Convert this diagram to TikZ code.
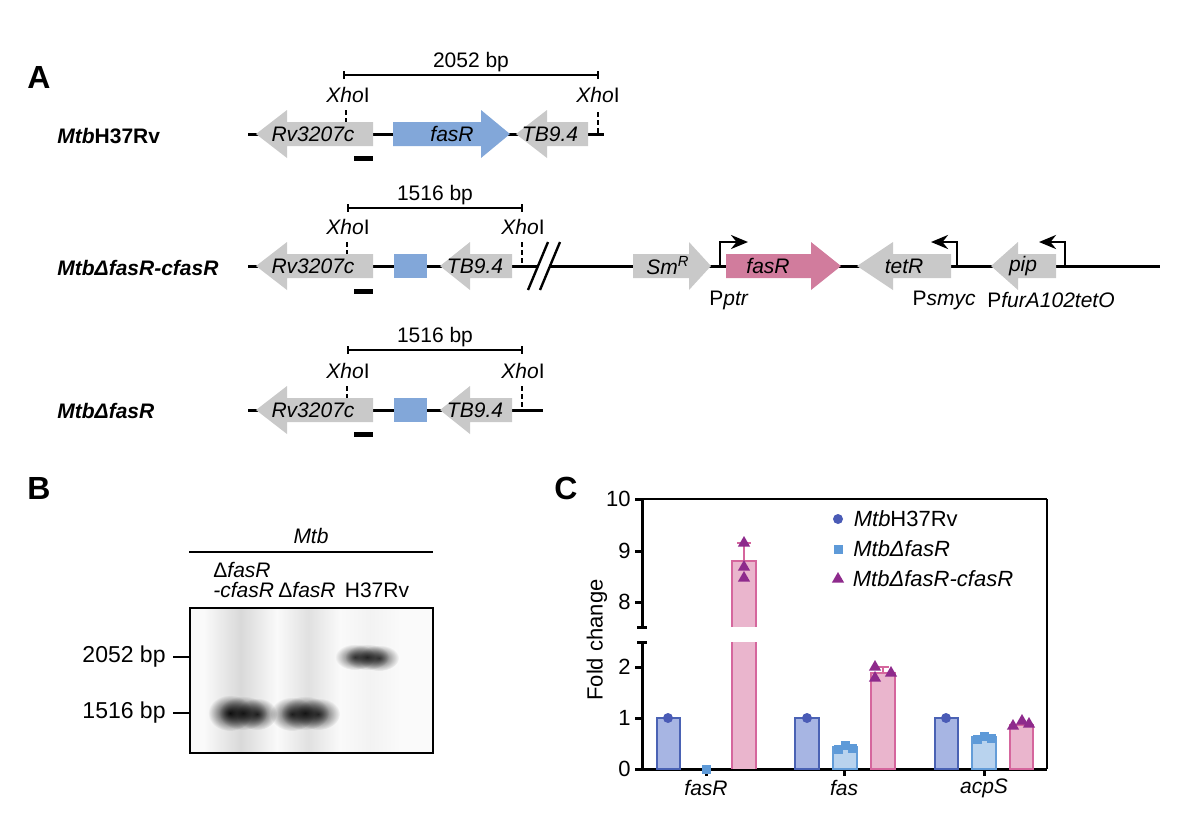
\documentclass[tikz,border=0pt]{standalone}
\usepackage{fontspec}
\setmainfont{Liberation Sans}
\usetikzlibrary{arrows.meta}
\usetikzlibrary{positioning}
\usetikzlibrary{shapes.geometric}
\usetikzlibrary{fadings}

\definecolor{genegrey}{HTML}{C9C9C9}
\definecolor{fasblue}{HTML}{82A7D9}
\definecolor{faspink}{HTML}{D17C9D}
\definecolor{wtfill}{HTML}{A7B5E3}
\definecolor{wtline}{HTML}{4A62B4}
\definecolor{wtmark}{HTML}{4A5BB6}
\definecolor{kofill}{HTML}{B9D3EE}
\definecolor{koline}{HTML}{649DD8}
\definecolor{komark}{HTML}{5E9AD8}
\definecolor{cpfill}{HTML}{EAB5CD}
\definecolor{cpline}{HTML}{D5669D}
\definecolor{cpmark}{HTML}{8E2A8C}

\tikzfading[name=fuzzy, inner color=transparent!0, outer color=transparent!100]

\begin{document}
\begin{tikzpicture}[x=0.5pt,y=-0.5pt]
\tikzstyle{every node}=[font=\fontsize{10.5}{12}\selectfont,inner sep=1pt]
\tikzstyle{panel}=[font=\fontsize{16}{18}\selectfont\bfseries]
\tikzstyle{strain}=[anchor=west,font=\fontsize{10.5}{12}\selectfont\bfseries]
\tikzstyle{genetext}=[font=\fontsize{10.5}{12}\selectfont\itshape]
\tikzstyle{dna}=[line width=1.5pt]
\tikzstyle{gene}=[fill=genegrey]
\tikzstyle{xho}=[line width=1.3pt,dash pattern=on 2.5pt off 1.5pt]
\tikzstyle{scalebar}=[line width=0.9pt]
\tikzstyle{probe}=[fill=black]
\tikzstyle{prom}=[line width=1.3pt,-{Stealth[length=8.5pt,width=7pt]}]
\tikzstyle{band}=[fill=black,path fading=fuzzy]
\tikzstyle{axis}=[line width=1.5pt]
\tikzstyle{wtbar}=[fill=wtfill,draw=wtline,line width=1.2pt]
\tikzstyle{kobar}=[fill=kofill,draw=koline,line width=1.2pt]
\tikzstyle{cpbar}=[fill=cpfill,draw=cpline,line width=1.2pt]
\tikzstyle{wtdot}=[circle,fill=wtmark,inner sep=0pt,minimum size=5pt]
\tikzstyle{kodot}=[rectangle,fill=komark,inner sep=0pt,minimum size=4.5pt]
\tikzstyle{cpdot}=[regular polygon,regular polygon sides=3,fill=cpmark,inner sep=0pt,minimum size=7pt]
\useasboundingbox (0,0) rectangle (1183,821);
%panel letters
\node[panel] (la) at (39,77) {A};
\node[panel] (lb) at (39,488) {B};
\node[panel] (lc) at (566,488) {C};
%row 1 : H37Rv
\node[strain] (wt) at (55,136) {\textit{Mtb}H37Rv};
\draw[dna] (248,134) -- (604,134);
\fill[gene] (373,122) -- (287,122) -- (287,110) -- (256,134) -- (287,158) -- (287,146) -- (373,146) -- cycle;
\fill[fasblue] (393,122) -- (481,122) -- (481,110) -- (510,134) -- (481,158) -- (481,146) -- (393,146) -- cycle;
\fill[gene] (588,122) -- (547,122) -- (547,110) -- (516,134) -- (547,158) -- (547,146) -- (588,146) -- cycle;
\node[genetext] (rv1) at (313,134) {Rv3207c};
\node[genetext] (fas1) at (452,134) {fasR};
\node[genetext] (tb1) at (550,134) {TB9.4};
\draw[xho] (346,110) -- (346,122);
\draw[xho] (598,112) -- (598,134);
\node (xa1) at (348,95) {\textit{Xho}I};
\node (xb1) at (598,95) {\textit{Xho}I};
\draw[scalebar] (344,71) -- (344,79) (344,75) -- (598,75) (598,71) -- (598,79);
\node (bp1) at (471,62) {2052 bp};
\fill[probe] (354,156) rectangle (373,161);
%row 2 : complemented
\node[strain] (comp) at (55,268) {\itshape MtbΔfasR-cfasR};
\draw[dna] (248,266) -- (1160,266);
\fill[white] (528,292) -- (549,240) -- (561,240) -- (540,292) -- cycle;
\draw[line width=1.2pt] (528,290) -- (548,242) (540,290) -- (560,242);
\fill[gene] (373,254) -- (287,254) -- (287,242) -- (256,266) -- (287,290) -- (287,278) -- (373,278) -- cycle;
\fill[fasblue] (394,254) rectangle (427,278);
\fill[gene] (512,254) -- (470,254) -- (470,242) -- (440,266) -- (470,290) -- (470,278) -- (512,278) -- cycle;
\node[genetext] (rv2) at (313,266) {Rv3207c};
\node[genetext] (tb2) at (475,266) {TB9.4};
\draw[xho] (347,242) -- (347,254);
\draw[xho] (522,242) -- (522,266);
\node (xa2) at (348,227) {\textit{Xho}I};
\node (xb2) at (523,227) {\textit{Xho}I};
\draw[scalebar] (348,204) -- (348,212) (348,208) -- (522,208) (522,204) -- (522,212);
\node (bp2) at (435,195) {1516 bp};
\fill[probe] (354,289) rectangle (373,294);
%plasmid insert
\fill[gene] (633,254) -- (689,254) -- (689,242) -- (711,266) -- (689,290) -- (689,278) -- (633,278) -- cycle;
\fill[faspink] (726,254) -- (811,254) -- (811,242) -- (841,266) -- (811,290) -- (811,278) -- (726,278) -- cycle;
\fill[gene] (951,254) -- (893,254) -- (893,242) -- (857,266) -- (893,290) -- (893,278) -- (951,278) -- cycle;
\fill[gene] (1056,254) -- (1018,254) -- (1018,242) -- (991,266) -- (1018,290) -- (1018,278) -- (1056,278) -- cycle;
\node[genetext] (sm) at (668,266) {Sm\textsuperscript{R}};
\node[genetext] (fas2) at (768,266) {fasR};
\node[genetext] (tet) at (904,266) {tetR};
\node[genetext] (pip) at (1023,266) {pip};
\draw[prom] (720,266) -- (720,242) -- (748,242);
\draw[prom] (957,266) -- (957,242) -- (931,242);
\draw[prom] (1065,266) -- (1065,242) -- (1039,242);
\node (pptr) at (729,300) {P\textit{ptr}};
\node (psmyc) at (944,300) {P\textit{smyc}};
\node (pfur) at (1051,300) {P\textit{furA102tetO}};
%row 3 : deletion
\node[strain] (ko) at (55,411) {\itshape MtbΔfasR};
\draw[dna] (248,410) -- (543,410);
\fill[gene] (373,398) -- (287,398) -- (287,386) -- (256,410) -- (287,434) -- (287,422) -- (373,422) -- cycle;
\fill[fasblue] (394,398) rectangle (427,422);
\fill[gene] (512,398) -- (470,398) -- (470,386) -- (440,410) -- (470,434) -- (470,422) -- (512,422) -- cycle;
\node[genetext] (rv3) at (313,410) {Rv3207c};
\node[genetext] (tb3) at (475,410) {TB9.4};
\draw[xho] (347,386) -- (347,398);
\draw[xho] (522,386) -- (522,410);
\node (xa3) at (348,371) {\textit{Xho}I};
\node (xb3) at (523,371) {\textit{Xho}I};
\draw[scalebar] (348,346) -- (348,354) (348,350) -- (522,350) (522,346) -- (522,354);
\node (bp3) at (435,337) {1516 bp};
\fill[probe] (354,432) rectangle (373,437);
%panel B : southern blot
\node[font=\fontsize{10.5}{12}\selectfont\itshape] (mtb) at (311,536) {Mtb};
\draw[line width=1.3pt] (189,552) -- (433,552);
\node[anchor=west] (l1a) at (211,570) {Δ\textit{fasR}};
\node[anchor=west] (l1b) at (211,590) {\textit{-cfasR}};
\node (l2) at (307,590) {Δ\textit{fasR}};
\node (l3) at (377,590) {H37Rv};
\fill[black!2] (190,608) rectangle (433,753);
\shade[left color=black!2,right color=black!2,middle color=black!15] (204,608) rectangle (277,753);
\shade[left color=black!2,right color=black!2,middle color=black!12] (277,608) rectangle (340,753);
\shade[left color=black!2,right color=black!2,middle color=black!5] (340,608) rectangle (400,753);
\fill[band,opacity=0.9] (230,713) ellipse (22 and 18);
\fill[band,opacity=0.8] (243,713) ellipse (24 and 17);
\fill[band,opacity=0.8] (257,714) ellipse (20 and 16);
\fill[band,opacity=0.8] (292,714) ellipse (22 and 17);
\fill[band,opacity=0.8] (305,713) ellipse (24 and 17);
\fill[band,opacity=0.75] (318,714) ellipse (22 and 16);
\fill[band,opacity=0.7] (355,657) ellipse (20 and 13);
\fill[band,opacity=0.7] (367,657) ellipse (22 and 13);
\fill[band,opacity=0.7] (379,658) ellipse (20 and 13);
\draw[line width=1.2pt] (190,608) rectangle (433,753);
\draw[line width=1.3pt] (173,657) -- (190,657);
\draw[line width=1.3pt] (173,713) -- (190,713);
\node[anchor=east,font=\fontsize{11.5}{13}\selectfont] (m2052) at (168,657) {2052 bp};
\node[anchor=east,font=\fontsize{11.5}{13}\selectfont] (m1516) at (168,713) {1516 bp};
%panel C : qPCR
\node[rotate=90,font=\fontsize{11}{13}\selectfont] (ylab) at (597,640) {Fold change};
\draw[line width=1pt] (642,499) -- (1047,499);
\draw[line width=1.2pt] (1047,499) -- (1047,769);
\draw[axis] (642,499) -- (642,627) (637,627) -- (647,627);
\draw[axis] (637,642) -- (647,642) (642,642) -- (642,769);
\draw[axis] (635,769) -- (1047,769);
\draw[axis] (635,499) -- (642,499) (635,551) -- (642,551) (635,602) -- (642,602);
\draw[axis] (635,667) -- (642,667) (635,718) -- (642,718);
\draw[axis] (706,769) -- (706,776) (844,769) -- (844,776) (984,769) -- (984,776);
\node[anchor=east,font=\fontsize{11}{13}\selectfont] (t10) at (633,499) {10};
\node[anchor=east,font=\fontsize{11}{13}\selectfont] (t9) at (633,551) {9};
\node[anchor=east,font=\fontsize{11}{13}\selectfont] (t8) at (633,602) {8};
\node[anchor=east,font=\fontsize{11}{13}\selectfont] (t2) at (633,667) {2};
\node[anchor=east,font=\fontsize{11}{13}\selectfont] (t1) at (633,718) {1};
\node[anchor=east,font=\fontsize{11}{13}\selectfont] (t0) at (633,769) {0};
\node[genetext] (gfasr) at (706,788) {fasR};
\node[genetext] (gfas) at (844,788) {fas};
\node[genetext] (gacps) at (984,788) {acpS};
%bars
\draw[wtbar] (657,769) rectangle (680,718);
\fill[cpfill] (732,769) rectangle (756,642);
\draw[cpline,line width=1.2pt] (732,769) -- (732,642) (756,769) -- (756,642);
\fill[cpfill] (732,627) rectangle (756,561);
\draw[cpline,line width=1.2pt] (732,627) -- (732,561) -- (756,561) -- (756,627);
\draw[cpline,line width=1.2pt] (744,561) -- (744,543) (737,543) -- (751,543);
\draw[wtbar] (795,769) rectangle (819,718);
\draw[kobar] (833,769) rectangle (857,747);
\draw[cpbar] (871,769) rectangle (895,673);
\draw[cpline,line width=1.2pt] (883,673) -- (883,667) (877,667) -- (889,667);
\draw[wtbar] (935,769) rectangle (958,718);
\draw[kobar] (972,769) rectangle (996,737);
\draw[cpbar] (1010,769) rectangle (1033,725);
%points
\node[wtdot] (p1) at (668,718) {};
\node[kodot] (p2) at (706,769) {};
\node[cpdot] (p3) at (744,543) {};
\node[cpdot] (p4) at (744,567) {};
\node[cpdot] (p5) at (744,578) {};
\node[wtdot] (p6) at (807,718) {};
\node[kodot] (p7) at (838,749) {};
\node[kodot] (p8) at (845,745) {};
\node[kodot] (p9) at (852,748) {};
\node[cpdot] (p10) at (875,667) {};
\node[cpdot] (p11) at (875,678) {};
\node[cpdot] (p12) at (891,673) {};
\node[wtdot] (p13) at (946,718) {};
\node[kodot] (p14) at (977,739) {};
\node[kodot] (p15) at (984,736) {};
\node[kodot] (p16) at (991,738) {};
\node[cpdot] (p17) at (1013,726) {};
\node[cpdot] (p18) at (1022,721) {};
\node[cpdot] (p19) at (1029,724) {};
%legend
\node[wtdot] (k1) at (838,519) {};
\node[kodot] (k2) at (838,549) {};
\node[cpdot] (k3) at (838,579) {};
\node[anchor=west,font=\fontsize{11}{13}\selectfont] (lk1) at (k1.east) [xshift=4pt] {\textit{Mtb}H37Rv};
\node[anchor=west,font=\fontsize{11}{13}\selectfont] (lk2) at (k2.east) [xshift=4pt] {\itshape MtbΔfasR};
\node[anchor=west,font=\fontsize{11}{13}\selectfont] (lk3) at (k3.east) [xshift=4pt] {\itshape MtbΔfasR-cfasR};
\end{tikzpicture}
\end{document}
